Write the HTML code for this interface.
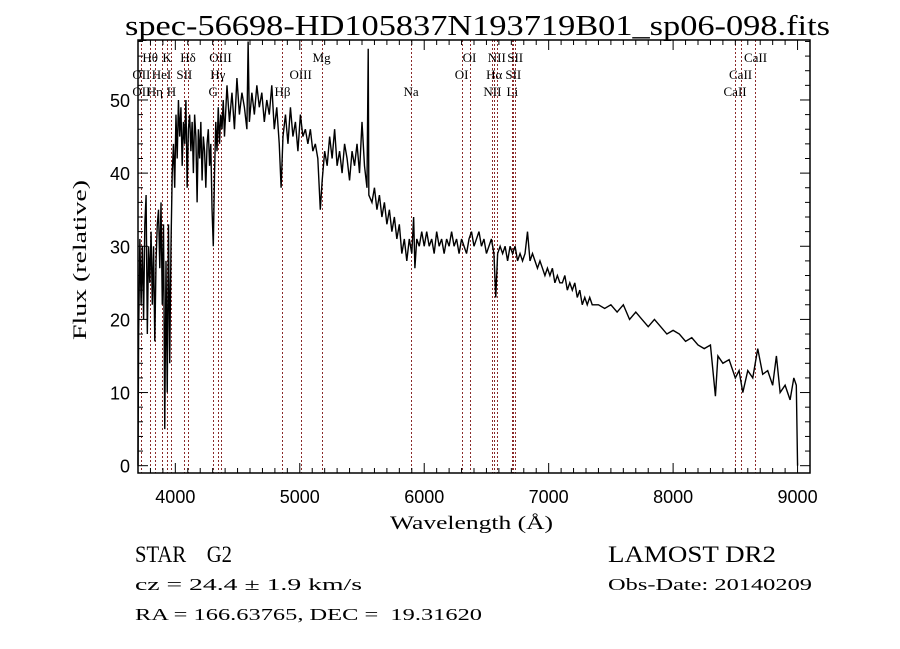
<!DOCTYPE html>
<html><head><meta charset="utf-8"><title>spec-56698</title>
<style>
html,body{margin:0;padding:0;background:#fff;}
svg{display:block;font-family:"Liberation Serif",serif;}
</style></head>
<body>
<svg id="chart" width="900" height="649" viewBox="0 0 900 649" xmlns="http://www.w3.org/2000/svg">
<rect x="0" y="0" width="900" height="649" fill="#fff"/>
<text x="125" y="35" font-size="28" textLength="705" lengthAdjust="spacingAndGlyphs">spec-56698-HD105837N193719B01_sp06-098.fits</text>
<g id="lines"></g>
<g id="spec"></g>
<g id="axes"></g>
<text x="390" y="529" font-size="19" textLength="163" lengthAdjust="spacingAndGlyphs">Wavelength (Å)</text>
<text transform="translate(86,340) rotate(-90)" font-size="19" textLength="160" lengthAdjust="spacingAndGlyphs">Flux (relative)</text>
<text x="135" y="562" font-size="23" textLength="97" lengthAdjust="spacingAndGlyphs" xml:space="preserve">STAR    G2</text>
<text x="608" y="562" font-size="23" textLength="168" lengthAdjust="spacingAndGlyphs">LAMOST DR2</text>
<text x="135" y="590" font-size="17" textLength="227" lengthAdjust="spacingAndGlyphs">cz = 24.4 ± 1.9 km/s</text>
<text x="608" y="590" font-size="17" textLength="204" lengthAdjust="spacingAndGlyphs">Obs-Date: 20140209</text>
<text x="135" y="620" font-size="17" textLength="347" lengthAdjust="spacingAndGlyphs" xml:space="preserve">RA = 166.63765, DEC =  19.31620</text>
</svg>
<script>
const waves = [3700,3705,3715,3725,3735,3745,3755,3765,3775,3785,3795,3805,3815,3825,3835,3845,3855,3865,3875,3885,3895,3905,3915,3925,3935,3945,3955,3965,3975,3985,3995,4005,4015,4025,4035,4045,4055,4065,4075,4085,4095,4105,4115,4125,4135,4145,4155,4165,4175,4185,4195,4205,4215,4225,4235,4245,4255,4265,4275,4285,4295,4305,4315,4325,4335,4345,4355,4365,4375,4385,4395,4415,4435,4455,4475,4495,4515,4535,4555,4575,4585,4595,4615,4635,4655,4675,4695,4715,4735,4755,4775,4795,4815,4835,4850,4865,4885,4905,4925,4945,4965,4985,5005,5025,5045,5065,5085,5105,5125,5145,5165,5180,5200,5220,5240,5260,5280,5300,5320,5340,5360,5380,5400,5420,5440,5460,5480,5500,5520,5540,5550,5555,5580,5600,5620,5640,5660,5680,5700,5720,5740,5760,5780,5800,5820,5840,5860,5880,5900,5915,5925,5940,5960,5980,6000,6020,6040,6060,6080,6100,6120,6140,6160,6180,6200,6220,6240,6260,6280,6300,6320,6340,6360,6380,6400,6420,6440,6460,6480,6500,6520,6540,6560,6575,6590,6610,6630,6650,6670,6690,6710,6730,6750,6770,6790,6810,6830,6850,6870,6890,6910,6930,6950,6970,6990,7010,7030,7050,7070,7090,7110,7130,7150,7170,7190,7210,7230,7250,7270,7290,7310,7330,7350,7400,7450,7500,7550,7600,7650,7700,7750,7800,7850,7900,7950,8000,8050,8100,8150,8200,8250,8300,8340,8360,8400,8450,8500,8530,8560,8600,8640,8680,8720,8760,8800,8830,8860,8900,8940,8970,8990,9000];
const flux = [0,18,31,22,30,20,33,37,18,30,25,32,22,30,17,28,33,35,27,36,22,33,5,28,10,33,14,30,40,44,38,48,42,50,45,49,41,47,44,50,38,46,48,43,47,40,48,45,36,46,42,47,39,45,43,38,44,46,41,44,35,30,40,47,43,49,44,48,46,50,45,52,47,51,46,53,48,51,49,46,58,47,51,48,52,49,51,47,50,48,52,46,49,44,38,45,48,44,49,45,47,43,48,45,46,44,46,43,44,42,35,39,43,41,45,42,46,41,43,40,44,42,39,43,41,44,40,47,41,38,57,37,36,38,35,37,34,36,33,35,32,34,31,33,29,31,28,31,29,34,27,31,30,32,30,32,30,31,29,32,30,31,29,31,30,32,30,31,29,31,30,29,31,32,30,31,32,30,31,29,30,31,29,23,29,30,29,30,28,30,29,30,28,29,28,29,32,28,29,28,27,28,27,26,27,26,27,25,26,25,25,26,24,25,24,25,23,24,22,23,22,23,22,22,21.5,22,21,22,20,21,20,19,20,19,18,18.5,18,17,17.5,16.5,16,16.5,9.5,15,14,14.5,12,13,10,13,12,16,12.5,13,11,15,10,11,9,12,11,0];
const lineWaves = [3727,3798,3835,3889,3934,3969,4072,4102,4304,4341,4363,4861,5007,5175,5894,6300,6364,6548,6563,6583,6708,6716,6731,8498,8542,8662];
const lineLabels = [
 {t:"OII",w:3727,r:1},{t:"OII",w:3727,r:2},{t:"Hθ",w:3798,r:0},{t:"Hη",w:3835,r:2},{t:"HeI",w:3889,r:1},{t:"K",w:3934,r:0},{t:"H",w:3969,r:2},{t:"SII",w:4072,r:1},{t:"Hδ",w:4102,r:0},{t:"G",w:4304,r:2},{t:"Hγ",w:4341,r:1},{t:"OIII",w:4363,r:0},{t:"Hβ",w:4861,r:2},{t:"OIII",w:5007,r:1},{t:"Mg",w:5175,r:0},{t:"Na",w:5894,r:2},{t:"OI",w:6300,r:1},{t:"OI",w:6364,r:0},{t:"NII",w:6548,r:2},{t:"Hα",w:6563,r:1},{t:"NII",w:6583,r:0},{t:"Li",w:6708,r:2},{t:"SII",w:6716,r:1},{t:"SII",w:6731,r:0},{t:"CaII",w:8498,r:2},{t:"CaII",w:8542,r:1},{t:"CaII",w:8662,r:0}];
const xTickLabels = [4000,5000,6000,7000,8000,9000];
const yTickLabels = [0,10,20,30,40,50];

const NS="http://www.w3.org/2000/svg";
const L=138,R=810,T=40,B=473, X0=3700,X1=9100, Y0=-1,Y1=58.2;
function xs(w){return L+(w-X0)/(X1-X0)*(R-L);}
function ys(f){return B-(f-Y0)/(Y1-Y0)*(B-T);}
function mk(tag,attrs,parent){const e=document.createElementNS(NS,tag);for(const k in attrs)e.setAttribute(k,attrs[k]);parent.appendChild(e);return e;}

const gl=document.getElementById('lines');
lineWaves.forEach(w=>{
  const x=Math.round(xs(w))+0.5;
  const l=mk('line',{x1:x,x2:x,y1:T,y2:B,stroke:'#8b2a2a','stroke-width':1,'stroke-dasharray':'2,2'},gl);
  
  
});
const rowY=[62,79,96];
lineLabels.forEach(o=>{
  const t=mk('text',{x:xs(o.w),y:rowY[o.r],'font-size':13,'text-anchor':'middle'},gl);
  t.textContent=o.t;
  
  
});

const gs=document.getElementById('spec');
let d='';
waves.forEach((w,i)=>{d+=(i?'L':'M')+xs(w).toFixed(2)+','+ys(flux[i]).toFixed(2);});
const p=mk('path',{d:d,fill:'none',stroke:'#000','stroke-width':1.4,'stroke-linejoin':'miter'},gs);



const ga=document.getElementById('axes');
const box=mk('rect',{x:L,y:T,width:R-L,height:B-T,fill:'none',stroke:'#000','stroke-width':1.5},ga);


for(let w=3700;w<=9100;w+=100){
  const len=(w%1000===0)?10:5;const x=xs(w);
  mk('line',{x1:x,x2:x,y1:B,y2:B-len,stroke:'#000','stroke-width':1},ga);
  mk('line',{x1:x,x2:x,y1:T,y2:T+len,stroke:'#000','stroke-width':1},ga);
}
for(let f=0;f<=58;f+=2){
  const len=(f%10===0)?10:5;const y=ys(f);
  mk('line',{x1:L,x2:L+len,y1:y,y2:y,stroke:'#000','stroke-width':1},ga);
  mk('line',{x1:R,x2:R-len,y1:y,y2:y,stroke:'#000','stroke-width':1},ga);
}
xTickLabels.forEach(v=>{
  const t=mk('text',{x:xs(v),y:503,'font-size':18,'text-anchor':'middle','font-family':'Liberation Sans, sans-serif'},ga);
  t.textContent=v;
  
  
});
yTickLabels.forEach(v=>{
  const t=mk('text',{x:130,y:ys(v)+7,'font-size':18,'text-anchor':'end','font-family':'Liberation Sans, sans-serif'},ga);
  t.textContent=v;
  
  
});
</script>
</body></html>
